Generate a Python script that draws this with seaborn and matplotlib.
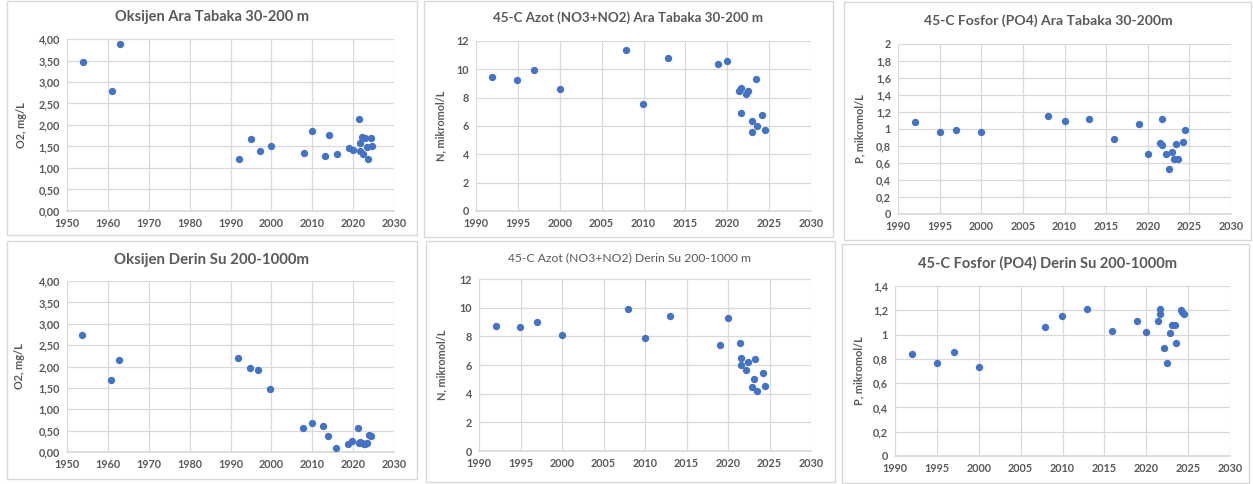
import numpy as np
import pandas as pd
import matplotlib
matplotlib.use("Agg")
import matplotlib.pyplot as plt
import seaborn as sns
from matplotlib.patches import Rectangle
from matplotlib.ticker import FuncFormatter, MultipleLocator

# ---------------- data ----------------
o2_ara_year = [1954.0, 1961.0, 1963.0, 1992.0, 1995.0, 1997.1, 2000.0, 2007.9, 2010.0, 2013.0,
               2014.0, 2016.0, 2019.0, 2020.0, 2021.5, 2021.6, 2021.6, 2022.2, 2022.5, 2023.0,
               2023.5, 2023.6, 2024.3, 2024.7]
o2_ara_val = [3.46, 2.79, 3.88, 1.21, 1.67, 1.39, 1.51, 1.36, 1.85, 1.28,
              1.77, 1.32, 1.46, 1.42, 2.13, 1.59, 1.40, 1.72, 1.32, 1.69,
              1.49, 1.22, 1.69, 1.52]

n_ara_year = [1991.9, 1994.9, 1996.9, 2000.0, 2007.95, 2009.9, 2012.9, 2018.9, 2019.97, 2021.4,
              2021.6, 2021.6, 2022.2, 2022.5, 2022.9, 2023.0, 2023.4, 2023.6, 2024.1, 2024.5]
n_ara_val = [9.49, 9.25, 9.98, 8.64, 11.39, 7.54, 10.78, 10.36, 10.62, 8.50,
             8.67, 6.93, 8.29, 8.50, 6.32, 5.59, 9.30, 6.01, 6.79, 5.73]

p_ara_year = [1992.0, 1995.0, 1997.0, 2000.0, 2008.0, 2010.0, 2013.0, 2016.0, 2019.0, 2020.0,
              2021.5, 2021.7, 2021.7, 2022.2, 2022.5, 2022.9, 2023.1, 2023.4, 2023.6, 2024.2,
              2024.5]
p_ara_val = [1.08, 0.97, 0.99, 0.97, 1.15, 1.09, 1.12, 0.88, 1.06, 0.71,
             0.83, 1.12, 0.81, 0.71, 0.53, 0.73, 0.65, 0.82, 0.65, 0.85,
             0.99]

o2_derin_year = [1953.7, 1960.8, 1962.8, 1991.8, 1994.8, 1996.8, 1999.7, 2007.7, 2009.9, 2012.7,
                 2013.8, 2015.7, 2018.8, 2019.8, 2021.3, 2021.4, 2021.8, 2022.2, 2022.6, 2023.0,
                 2023.5, 2024.0, 2024.4]
o2_derin_val = [2.74, 1.69, 2.16, 2.19, 1.97, 1.91, 1.48, 0.57, 0.69, 0.61,
                0.37, 0.10, 0.19, 0.26, 0.57, 0.20, 0.23, 0.20, 0.19, 0.19,
                0.21, 0.40, 0.38]

n_derin_year = [1992.0, 1994.9, 1997.0, 2000.0, 2008.0, 2010.0, 2013.0, 2019.0, 2020.0, 2021.4,
                2021.6, 2021.6, 2022.2, 2022.4, 2022.9, 2023.1, 2023.3, 2023.5, 2024.2, 2024.45]
n_derin_val = [8.71, 8.62, 9.01, 8.06, 9.92, 7.87, 9.43, 7.38, 9.29, 7.56,
               6.49, 5.98, 5.63, 6.23, 4.46, 5.02, 6.42, 4.16, 5.44, 4.53]

p_derin_year = [1992.0, 1995.0, 1997.0, 2000.0, 2007.9, 2009.9, 2012.9, 2015.9, 2018.9, 2019.95,
                2021.4, 2021.6, 2021.6, 2022.1, 2022.5, 2022.8, 2023.1, 2023.4, 2023.6, 2024.1,
                2024.3, 2024.5]
p_derin_val = [0.84, 0.77, 0.86, 0.73, 1.06, 1.15, 1.21, 1.03, 1.11, 1.02,
               1.11, 1.17, 1.21, 0.89, 0.77, 1.01, 1.08, 1.08, 0.93, 1.20,
               1.19, 1.17]

titles = ["Oksijen Ara Tabaka 30-200 m",
          "45-C Azot (NO3+NO2) Ara Tabaka 30-200 m",
          "45-C Fosfor (PO4) Ara Tabaka 30-200m",
          "Oksijen Derin Su 200-1000m",
          "45-C Azot (NO3+NO2) Derin Su 200-1000 m",
          "45-C Fosfor (PO4) Derin Su 200-1000m"]
ylabels = ["O2, mg/L", "N, mikromol/L", "P, mikromol/L",
           "O2, mg/L", "N, mikromol/L", "P, mikromol/L"]

# ---------------- style ----------------
sns.set_theme(style="whitegrid")
plt.rcParams['font.family'] = ['Lato', 'DejaVu Sans']
TXT = "#595959"
GRID = "#d9d9d9"
BLUE = "#4472C4"

W, H = 1253, 484
fig = plt.figure(figsize=(W / 100, H / 100), dpi=100)
fig.patch.set_facecolor("white")

# panel frames (pixels: x0, y0, x1, y1)
frames = [(7, 1, 417, 235), (424, 1, 833, 237), (844, 2, 1251, 240),
          (7, 241, 417, 479), (426, 241, 835, 482), (842, 244, 1249, 483)]
# plot areas (pixels)
areas = [(67, 39, 394, 211), (476, 41, 811, 211), (898, 44, 1231, 214),
         (67, 281, 394, 452), (479, 279, 811, 451), (895, 286, 1230, 456)]
title_pos = [(212, 17), (628, 18), (1048, 21), (212, 260), (630, 258), (1047, 263)]
title_size = [10.5, 9.6, 10.1, 10.8, 8.7, 10.5]
title_weight = ['bold', 'bold', 'bold', 'bold', 'normal', 'bold']
ylabel_x = [27, 446, 865, 25, 447, 864]

series = [(o2_ara_year, o2_ara_val), (n_ara_year, n_ara_val), (p_ara_year, p_ara_val),
          (o2_derin_year, o2_derin_val), (n_derin_year, n_derin_val), (p_derin_year, p_derin_val)]
xlims = [(1950, 2030), (1990, 2030), (1990, 2030), (1950, 2030), (1990, 2030), (1990, 2030)]
xsteps = [10, 5, 5, 10, 5, 5]
ylims = [(0, 4), (0, 12), (0, 2), (0, 4), (0, 12), (0, 1.4)]
ysteps = [0.5, 2, 0.2, 0.5, 2, 0.2]


def fmt_o2(v, pos):
    return f"{v:.2f}".replace(".", ",")


def fmt_gen(v, pos):
    s = f"{v:.1f}".rstrip("0").rstrip(".")
    return s.replace(".", ",")


fmts = [fmt_o2, fmt_gen, fmt_gen, fmt_o2, fmt_gen, fmt_gen]

for i in range(6):
    fx0, fy0, fx1, fy1 = frames[i]
    fig.patches.append(Rectangle((fx0 / W, 1 - fy1 / H), (fx1 - fx0) / W, (fy1 - fy0) / H,
                                 transform=fig.transFigure, fill=False,
                                 edgecolor=GRID, linewidth=1.0, zorder=0))
    x0, y0, x1, y1 = areas[i]
    ax = fig.add_axes([x0 / W, 1 - y1 / H, (x1 - x0) / W, (y1 - y0) / H])
    df = pd.DataFrame({"year": series[i][0], "value": series[i][1]})
    sns.scatterplot(data=df, x="year", y="value", ax=ax, color=BLUE, s=28,
                    edgecolor=BLUE, linewidth=0, zorder=3, clip_on=False)
    ax.set_xlim(*xlims[i])
    ax.set_ylim(*ylims[i])
    ax.xaxis.set_major_locator(MultipleLocator(xsteps[i]))
    ax.yaxis.set_major_locator(MultipleLocator(ysteps[i]))
    ax.yaxis.set_major_formatter(FuncFormatter(fmts[i]))
    ax.grid(True, color=GRID, linewidth=0.9)
    ax.set_facecolor("white")
    for sp in ax.spines.values():
        sp.set_visible(False)
    ax.spines['bottom'].set_visible(True)
    ax.spines['bottom'].set_color(GRID)
    ax.tick_params(axis='both', length=0, labelsize=7.8, labelcolor=TXT, pad=5)
    for lab in ax.get_xticklabels() + ax.get_yticklabels():
        lab.set_fontweight('bold')
    ax.set_xlabel("")
    ax.set_ylabel(ylabels[i], fontsize=7.8, color=TXT, fontweight='bold')
    ax.yaxis.set_label_coords((ylabel_x[i] - x0) / (x1 - x0), 0.5)
    tx, ty = title_pos[i]
    fig.text(tx / W, 1 - ty / H, titles[i], ha='center', va='center',
             fontsize=title_size[i], color=TXT, fontweight=title_weight[i])

fig.savefig("out.png", dpi=100, facecolor="white")
